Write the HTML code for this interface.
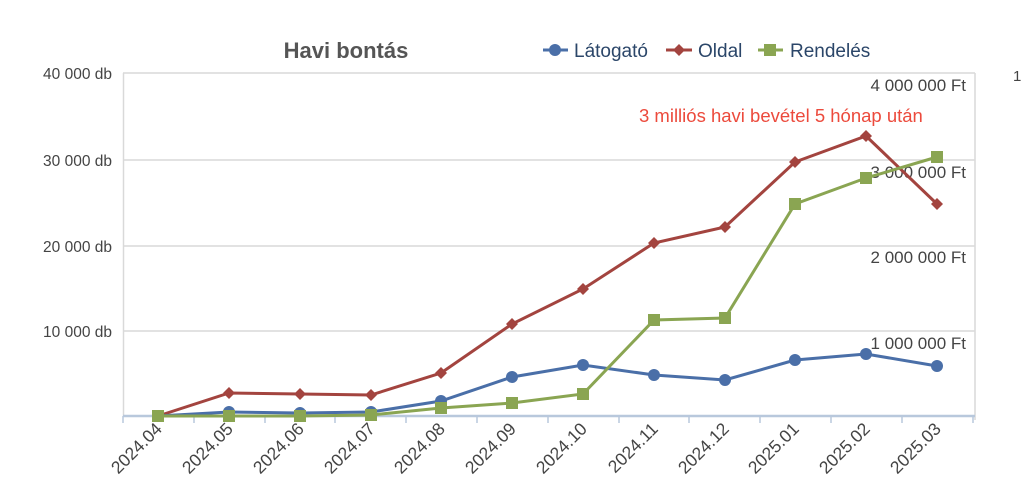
<!DOCTYPE html>
<html><head><meta charset="utf-8"><style>body{margin:0;background:#fff}svg{display:block}text{font-family:"Liberation Sans","DejaVu Sans",sans-serif}</style></head><body>
<svg width="1024" height="503" viewBox="0 0 1024 503">
<rect width="1024" height="503" fill="#fff"/>
<g stroke="#d9d9d9" stroke-width="1.5">
<line x1="123" y1="73" x2="975" y2="73"/>
<line x1="123" y1="160" x2="975" y2="160"/>
<line x1="123" y1="246" x2="975" y2="246"/>
<line x1="123" y1="331" x2="975" y2="331"/>
<line x1="123.5" y1="73" x2="123.5" y2="416"/>
<line x1="975" y1="73" x2="975" y2="420"/>
</g>
<line x1="123" y1="416" x2="975" y2="416" stroke="#b8c8dc" stroke-width="2.5"/>
<g stroke="#b8c8dc" stroke-width="1.5">
<line x1="123" y1="416" x2="123" y2="423"/><line x1="194" y1="416" x2="194" y2="423"/><line x1="265" y1="416" x2="265" y2="423"/><line x1="335" y1="416" x2="335" y2="423"/><line x1="406" y1="416" x2="406" y2="423"/><line x1="477" y1="416" x2="477" y2="423"/><line x1="548" y1="416" x2="548" y2="423"/><line x1="619" y1="416" x2="619" y2="423"/><line x1="689" y1="416" x2="689" y2="423"/><line x1="760" y1="416" x2="760" y2="423"/><line x1="831" y1="416" x2="831" y2="423"/><line x1="902" y1="416" x2="902" y2="423"/><line x1="973" y1="416" x2="973" y2="423"/>
</g>
<g font-size="15.5" fill="#444" text-anchor="end">
<text x="112" y="79">40 000 db</text><text x="112" y="166">30 000 db</text><text x="112" y="252">20 000 db</text><text x="112" y="337">10 000 db</text>
</g>
<g font-size="17" fill="#444" text-anchor="end">
<text x="966" y="91">4 000 000 Ft</text><text x="966" y="178">3 000 000 Ft</text><text x="966" y="263">2 000 000 Ft</text><text x="966" y="349">1 000 000 Ft</text>
</g>
<text x="1013" y="81" font-size="15" fill="#444">1</text>
<text x="346" y="58" font-size="22" font-weight="bold" fill="#555" text-anchor="middle">Havi bontás</text>
<text x="639" y="122" font-size="18.5" fill="#ec4a3c">3 milliós havi bevétel 5 hónap után</text>
<g font-size="17.5" fill="#444" text-anchor="end">
<text transform="translate(163,430) rotate(-45)">2024.04</text><text transform="translate(234,430) rotate(-45)">2024.05</text><text transform="translate(305,430) rotate(-45)">2024.06</text><text transform="translate(376,430) rotate(-45)">2024.07</text><text transform="translate(446,430) rotate(-45)">2024.08</text><text transform="translate(517,430) rotate(-45)">2024.09</text><text transform="translate(588,430) rotate(-45)">2024.10</text><text transform="translate(659,430) rotate(-45)">2024.11</text><text transform="translate(730,430) rotate(-45)">2024.12</text><text transform="translate(800,430) rotate(-45)">2025.01</text><text transform="translate(871,430) rotate(-45)">2025.02</text><text transform="translate(942,430) rotate(-45)">2025.03</text>
</g>
<!-- legend -->
<line x1="543" y1="50" x2="568" y2="50" stroke="#4a6fa8" stroke-width="3"/><circle cx="555" cy="50" r="6" fill="#4a6fa8"/>
<text x="574" y="57" font-size="19" fill="#2b4669">Látogató</text>
<line x1="666" y1="50" x2="692" y2="50" stroke="#a3443f" stroke-width="3"/><polygon points="679,44 685,50 679,56 673,50" fill="#a3443f"/>
<text x="698" y="57" font-size="19" fill="#2b4669">Oldal</text>
<line x1="758" y1="50" x2="783" y2="50" stroke="#8aa552" stroke-width="3"/><rect x="764" y="44" width="12" height="12" fill="#8aa552"/>
<text x="790" y="57" font-size="19" fill="#2b4669">Rendelés</text>
<!-- series -->
<polyline fill="none" stroke="#a3443f" stroke-width="3" points="158,416 229,393 300,394 371,395 441,373 512,324 583,289 654,243 725,227 795,162 866,136 937,204"/>
<g fill="#a3443f">
<polygon points="229,387 235,393 229,399 223,393"/><polygon points="300,388 306,394 300,400 294,394"/><polygon points="371,389 377,395 371,401 365,395"/><polygon points="441,367 447,373 441,379 435,373"/><polygon points="512,318 518,324 512,330 506,324"/><polygon points="583,283 589,289 583,295 577,289"/><polygon points="654,237 660,243 654,249 648,243"/><polygon points="725,221 731,227 725,233 719,227"/><polygon points="795,156 801,162 795,168 789,162"/><polygon points="866,130 872,136 866,142 860,136"/><polygon points="937,198 943,204 937,210 931,204"/>
</g>
<polyline fill="none" stroke="#4a6fa8" stroke-width="3" points="158,416 229,412 300,413 371,412 441,401 512,377 583,365 654,375 725,380 795,360 866,354 937,366"/>
<g fill="#4a6fa8">
<circle cx="229" cy="412" r="6"/><circle cx="300" cy="413" r="6"/><circle cx="371" cy="412" r="6"/><circle cx="441" cy="401" r="6"/><circle cx="512" cy="377" r="6"/><circle cx="583" cy="365" r="6"/><circle cx="654" cy="375" r="6"/><circle cx="725" cy="380" r="6"/><circle cx="795" cy="360" r="6"/><circle cx="866" cy="354" r="6"/><circle cx="937" cy="366" r="6"/>
</g>
<polyline fill="none" stroke="#8aa552" stroke-width="3" points="158,416 229,416 300,416 371,415 441,408 512,403 583,394 654,320 725,318 795,204 866,178 937,157"/>
<g fill="#8aa552">
<rect x="152" y="410" width="12" height="12"/><rect x="223" y="410" width="12" height="12"/><rect x="294" y="410" width="12" height="12"/><rect x="365" y="409" width="12" height="12"/><rect x="435" y="402" width="12" height="12"/><rect x="506" y="397" width="12" height="12"/><rect x="577" y="388" width="12" height="12"/><rect x="648" y="314" width="12" height="12"/><rect x="719" y="312" width="12" height="12"/><rect x="789" y="198" width="12" height="12"/><rect x="860" y="172" width="12" height="12"/><rect x="931" y="151" width="12" height="12"/>
</g>
</svg>
</body></html>
